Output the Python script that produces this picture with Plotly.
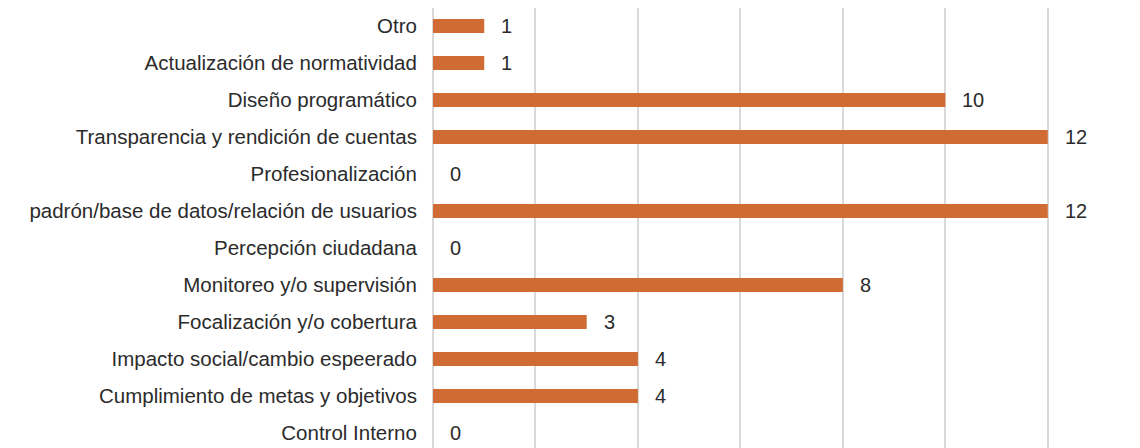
import plotly.graph_objects as go

categories = [
    "Control Interno",
    "Cumplimiento de metas y objetivos",
    "Impacto social/cambio espeerado",
    "Focalización y/o cobertura",
    "Monitoreo y/o supervisión",
    "Percepción ciudadana",
    "padrón/base de datos/relación de usuarios",
    "Profesionalización",
    "Transparencia y rendición de cuentas",
    "Diseño programático",
    "Actualización de normatividad",
    "Otro",
]
values = [0, 4, 4, 3, 8, 0, 12, 0, 12, 10, 1, 1]

BAR_COLOR = "#D06C33"
TEXT_COLOR = "#2b2b2b"
FONT = "Liberation Sans, Arial, sans-serif"

fig = go.Figure()
fig.add_trace(go.Bar(
    y=categories,
    x=values,
    orientation="h",
    marker=dict(color=BAR_COLOR, line=dict(width=0)),
    width=0.38,
    hoverinfo="x+y",
))

for c, v in zip(categories, values):
    fig.add_annotation(
        x=v, y=c, xref="x", yref="y",
        text=str(v), showarrow=False,
        xanchor="left", yanchor="middle",
        xshift=15,
        font=dict(family=FONT, size=20, color=TEXT_COLOR),
    )

# page body has an 8px margin, so the figure is sized 8px smaller
fig.update_layout(
    width=1132, height=440,
    margin=dict(l=425, r=0, t=0, b=0),
    paper_bgcolor="white",
    plot_bgcolor="white",
    showlegend=False,
    font=dict(family=FONT, size=20, color=TEXT_COLOR),
)
fig.update_xaxes(
    range=[0, 13.8],
    dtick=2,
    showgrid=True,
    gridcolor="#d9d9d9",
    gridwidth=2,
    showticklabels=False,
    zeroline=True,
    zerolinecolor="#d9d9d9",
    zerolinewidth=2,
    showline=False,
)
fig.update_yaxes(
    type="category",
    categoryorder="array",
    categoryarray=categories,
    range=[-0.406, 11.486],
    showgrid=False,
    showline=False,
    zeroline=False,
    ticks="outside",
    ticklen=11,
    tickcolor="rgba(0,0,0,0)",
    tickfont=dict(family=FONT, size=20.5, color=TEXT_COLOR),
)

fig.write_html("out.html")
